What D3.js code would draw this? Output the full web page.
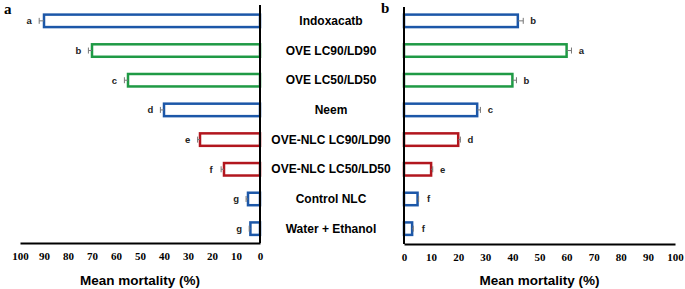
<!DOCTYPE html>
<html><head><meta charset="utf-8">
<script src="https://cdn.jsdelivr.net/npm/d3@7"></script>
<style>body{margin:0;background:#fff}svg{display:block}</style>
</head><body>
<svg id="c" width="685" height="289"></svg>
<script>
const categories = ["Indoxacatb","OVE LC90/LD90","OVE LC50/LD50","Neem","OVE-NLC LC90/LD90","OVE-NLC LC50/LD50","Control NLC","Water + Ethanol"];
const groupColor = ["blue","green","green","blue","red","red","blue","blue"];
const valuesA = [90, 70, 55, 40, 25, 15, 5, 4];
const errorsA = [2, 1.5, 1.5, 1.5, 1, 1.2, 0.8, 0.5];
const lettersA = ["a","b","c","d","e","f","g","g"];
const valuesB = [42, 60, 40, 27, 20, 10, 5, 3];
const errorsB = [2, 1.8, 1.5, 1.2, 0.8, 0.6, 0.4, 0.4];
const lettersB = ["b","a","b","c","d","e","f","f"];
const ticks = [0,10,20,30,40,50,60,70,80,90,100];
const colors = {blue:"#1c57a8", green:"#1f9a45", red:"#b2161e"};

const svg = d3.select("#c");
const y = d3.scaleBand().domain(categories).range([6, 243.5]).paddingInner(0.58).paddingOuter(0.29);

function panel(x0, x1, values, errors, letters, dir, axisY, vTop) {
  const x = d3.scaleLinear().domain([0,100]).range([x0, x1]);
  const g = svg.append("g");
  // bars
  categories.forEach((c,i)=>{
    const xa = x(0), xb = x(values[i]);
    g.append("rect")
      .attr("x", Math.min(xa,xb)).attr("y", y(c))
      .attr("width", Math.abs(xb-xa)).attr("height", y.bandwidth())
      .attr("fill","#fff").attr("stroke", colors[groupColor[i]]).attr("stroke-width", 2.5);
    const cy = y(c) + y.bandwidth()/2;
    const xe = x(values[i] + errors[i]);
    g.append("line").attr("x1", xb).attr("x2", xe).attr("y1", cy).attr("y2", cy)
      .attr("stroke","#777").attr("stroke-width",1);
    g.append("line").attr("x1", xe).attr("x2", xe).attr("y1", cy-3).attr("y2", cy+3)
      .attr("stroke","#777").attr("stroke-width",1);
    g.append("text").attr("x", xe + dir*10).attr("y", cy).attr("dy","0.35em")
      .attr("text-anchor","middle").attr("font-family","Liberation Sans, Arial, sans-serif")
      .attr("font-weight","bold").attr("font-size",9.5).attr("fill","#222").text(letters[i]);
  });
  // axes
  const ax = d3.axisBottom(x).tickValues(ticks).tickSize(0).tickPadding(9);
  const ag = g.append("g").attr("transform",`translate(0,${axisY})`).call(ax);
  ag.select(".domain").attr("stroke","#000").attr("stroke-width",2);
  ag.selectAll("text").attr("font-family","Liberation Serif, Times New Roman, serif")
    .attr("font-weight","bold").attr("font-size",11).attr("fill","#000");
  g.append("line").attr("x1", x(0)).attr("x2", x(0)).attr("y1", vTop).attr("y2", axisY)
    .attr("stroke","#000").attr("stroke-width",2);
  g.append("text").attr("x",(x0+x1)/2).attr("y",280).attr("dy","0.35em").attr("text-anchor","middle")
    .attr("font-family","Liberation Sans, Arial, sans-serif").attr("font-weight","bold")
    .attr("font-size",13.5).attr("fill","#000").text("Mean mortality (%)");
}

panel(260, 20, valuesA, errorsA, lettersA, -1, 243, 5);
panel(404, 675, valuesB, errorsB, lettersB, 1, 244, 7);

// category labels
categories.forEach(c=>{
  svg.append("text").attr("x",331).attr("y", y(c)+y.bandwidth()/2).attr("dy","0.35em")
    .attr("text-anchor","middle").attr("font-family","Liberation Sans, Arial, sans-serif")
    .attr("font-weight","bold").attr("font-size",12).attr("fill","#000").text(c);
});
// panel letters
svg.append("text").attr("x",4).attr("y",14).attr("font-family","Liberation Serif, Times New Roman, serif")
  .attr("font-weight","bold").attr("font-size",15).text("a");
svg.append("text").attr("x",381).attr("y",13).attr("font-family","Liberation Serif, Times New Roman, serif")
  .attr("font-weight","bold").attr("font-size",15).text("b");
</script>
</body></html>
